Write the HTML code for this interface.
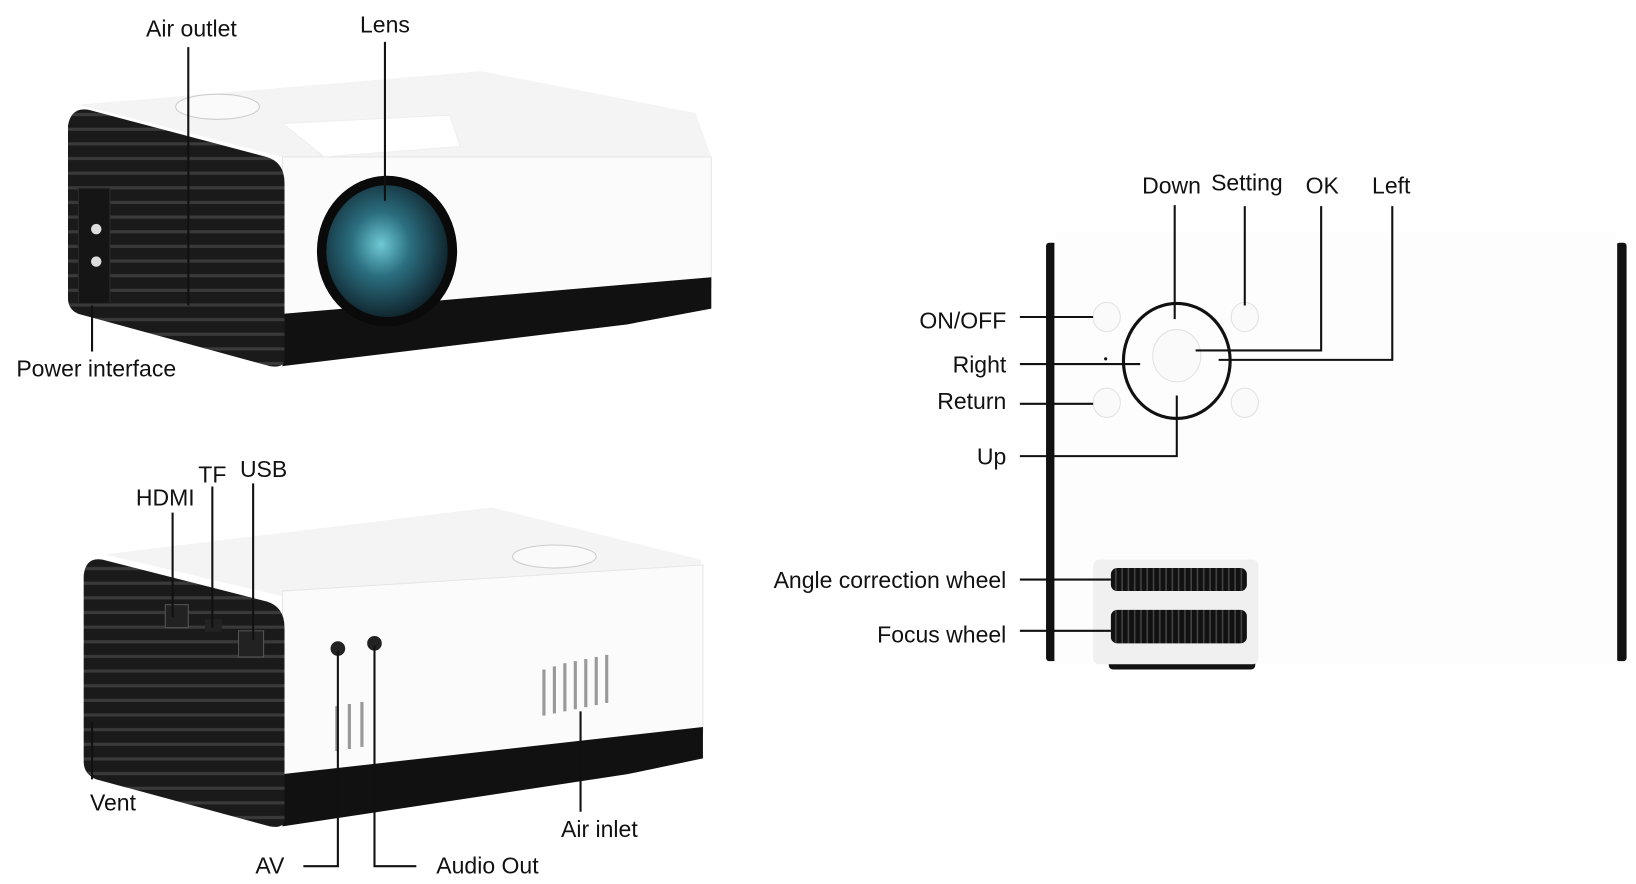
<!DOCTYPE html>
<html><head><meta charset="utf-8"><style>
html,body{margin:0;padding:0;background:#fff;width:1636px;height:884px;overflow:hidden}
svg{display:block}
text{font-family:"Liberation Sans",sans-serif;font-size:22px;fill:#111}
</style></head><body>
<svg width="1636" height="884" viewBox="0 0 1564 845" xmlns="http://www.w3.org/2000/svg">
<defs>
<pattern id="stripe" width="10" height="14" patternUnits="userSpaceOnUse"><rect width="10" height="14" fill="#1a1a1a"/><rect y="10" width="10" height="3" fill="#3a3a3a"/></pattern>
<pattern id="knurl" width="6" height="10" patternUnits="userSpaceOnUse"><rect width="6" height="10" fill="#111"/><rect x="4" width="1.5" height="10" fill="#444"/></pattern>
<radialGradient id="lens" cx="0.45" cy="0.45" r="0.6"><stop offset="0" stop-color="#6fc9d6"/><stop offset="0.4" stop-color="#2b6f80"/><stop offset="1" stop-color="#0d1c24"/></radialGradient>
</defs>

<!-- TOP PROJECTOR -->
<polygon points="75,100 460,68 665,108 680,150 270,150" fill="#f4f4f4"/>
<polygon points="270,150 680,150 680,275 270,305" fill="#fbfbfb" stroke="#e6e6e6"/>
<polygon points="270,300 680,265 680,295 600,310 270,350" fill="#111"/>
<path d="M65,120 Q68,102 85,105 L255,150 Q272,155 272,175 L272,345 Q270,352 258,350 L75,300 Q65,296 65,285 Z" fill="url(#stripe)"/>
<rect x="75" y="180" width="30" height="110" fill="#151515" stroke="#2a2a2a"/>
<circle cx="92" cy="219" r="5" fill="#ddd"/><circle cx="92" cy="250" r="5" fill="#ddd"/>
<ellipse cx="208" cy="102" rx="40" ry="12" fill="#fafafa" stroke="#ccc"/>
<polygon points="270,118 430,110 440,140 310,150" fill="#fff" stroke="#eee"/>
<ellipse cx="370" cy="240" rx="67" ry="72" fill="#0a0a0a"/>
<ellipse cx="370" cy="240" rx="58" ry="63" fill="url(#lens)"/>
<line x1="180" y1="45" x2="180" y2="292" stroke="#111" stroke-width="2"/>
<line x1="368" y1="40" x2="368" y2="192" stroke="#111" stroke-width="2"/>
<line x1="88" y1="292" x2="88" y2="336" stroke="#111" stroke-width="2"/>
<text x="183" y="35" text-anchor="middle">Air outlet</text>
<text x="368" y="31" text-anchor="middle">Lens</text>
<text x="92" y="360" text-anchor="middle">Power interface</text>

<!-- BOTTOM PROJECTOR -->
<polygon points="100,530 470,485 670,535 672,570 270,570" fill="#f4f4f4"/>
<polygon points="270,565 672,540 672,700 270,745" fill="#fbfbfb" stroke="#e6e6e6"/>
<polygon points="270,740 672,695 672,725 600,740 270,790" fill="#111"/>
<path d="M80,550 Q82,532 98,535 L255,575 Q272,580 272,600 L272,785 Q270,792 258,790 L92,745 Q80,740 80,728 Z" fill="url(#stripe)"/>
<ellipse cx="530" cy="532" rx="40" ry="11" fill="#fafafa" stroke="#ccc"/>
<rect x="158" y="578" width="22" height="22" fill="#222" stroke="#555"/>
<rect x="196" y="592" width="16" height="12" fill="#222"/>
<rect x="228" y="603" width="24" height="25" fill="#222" stroke="#555"/>
<circle cx="323" cy="620" r="7" fill="#222"/><circle cx="358" cy="615" r="7" fill="#222"/>
<g stroke="#999" stroke-width="3"><line x1="520" y1="640" x2="520" y2="684"/><line x1="530" y1="637" x2="530" y2="682"/><line x1="540" y1="634" x2="540" y2="680"/><line x1="550" y1="632" x2="550" y2="678"/><line x1="560" y1="630" x2="560" y2="676"/><line x1="570" y1="628" x2="570" y2="674"/><line x1="580" y1="626" x2="580" y2="672"/><line x1="322" y1="675" x2="322" y2="718"/><line x1="334" y1="673" x2="334" y2="716"/><line x1="346" y1="671" x2="346" y2="714"/></g>
<g stroke="#111" stroke-width="2" fill="none">
<line x1="165" y1="490" x2="165" y2="590"/>
<line x1="203" y1="465" x2="203" y2="600"/>
<line x1="242" y1="462" x2="242" y2="612"/>
<line x1="88" y1="690" x2="88" y2="745"/>
<polyline points="323,622 323,828 290,828"/>
<polyline points="358,617 358,828 398,828"/>
<line x1="555" y1="680" x2="555" y2="776"/>
</g>
<text x="158" y="483" text-anchor="middle">HDMI</text>
<text x="203" y="461" text-anchor="middle">TF</text>
<text x="252" y="456" text-anchor="middle">USB</text>
<text x="108" y="775" text-anchor="middle">Vent</text>
<text x="258" y="835" text-anchor="middle">AV</text>
<text x="466" y="835" text-anchor="middle">Audio Out</text>
<text x="573" y="800" text-anchor="middle">Air inlet</text>

<!-- RIGHT TOP VIEW -->
<rect x="1000" y="232" width="10" height="400" rx="3" fill="#111"/>
<rect x="1545" y="232" width="10" height="400" rx="3" fill="#111"/>
<rect x="1008" y="222" width="538" height="412" fill="#fdfdfd"/>
<rect x="1060" y="630" width="140" height="10" rx="4" fill="#111"/>
<rect x="1045" y="535" width="158" height="100" rx="6" fill="#f0f0f0"/>
<rect x="1062" y="543" width="130" height="22" rx="6" fill="url(#knurl)"/>
<rect x="1062" y="583" width="130" height="32" rx="6" fill="url(#knurl)"/>
<g fill="#fafafa" stroke="#e2e2e2"><ellipse cx="1058" cy="303" rx="13" ry="14"/><ellipse cx="1190" cy="303" rx="13" ry="14"/><ellipse cx="1058" cy="385" rx="13" ry="14"/><ellipse cx="1190" cy="385" rx="13" ry="14"/><ellipse cx="1125" cy="340" rx="23" ry="25"/></g>
<ellipse cx="1125" cy="345" rx="51" ry="55" fill="none" stroke="#111" stroke-width="3"/>
<circle cx="1057" cy="343" r="1.5" fill="#111"/>
<g stroke="#111" stroke-width="2" fill="none">
<line x1="975" y1="303" x2="1045" y2="303"/>
<line x1="975" y1="348" x2="1090" y2="348"/>
<line x1="975" y1="386" x2="1045" y2="386"/>
<polyline points="975,436 1125,436 1125,378"/>
<line x1="975" y1="554" x2="1062" y2="554"/>
<line x1="975" y1="603" x2="1062" y2="603"/>
<line x1="1123" y1="196" x2="1123" y2="305"/>
<line x1="1190" y1="197" x2="1190" y2="292"/>
<polyline points="1263,197 1263,335 1143,335"/>
<polyline points="1331,197 1331,344 1165,344"/>
</g>
<g text-anchor="end">
<text x="962" y="314">ON/OFF</text>
<text x="962" y="356">Right</text>
<text x="962" y="391">Return</text>
<text x="962" y="444">Up</text>
<text x="962" y="562">Angle correction wheel</text>
<text x="962" y="614">Focus wheel</text>
</g>
<text x="1120" y="185" text-anchor="middle">Down</text>
<text x="1192" y="182" text-anchor="middle">Setting</text>
<text x="1264" y="185" text-anchor="middle">OK</text>
<text x="1330" y="185" text-anchor="middle">Left</text>
</svg>
</body></html>
